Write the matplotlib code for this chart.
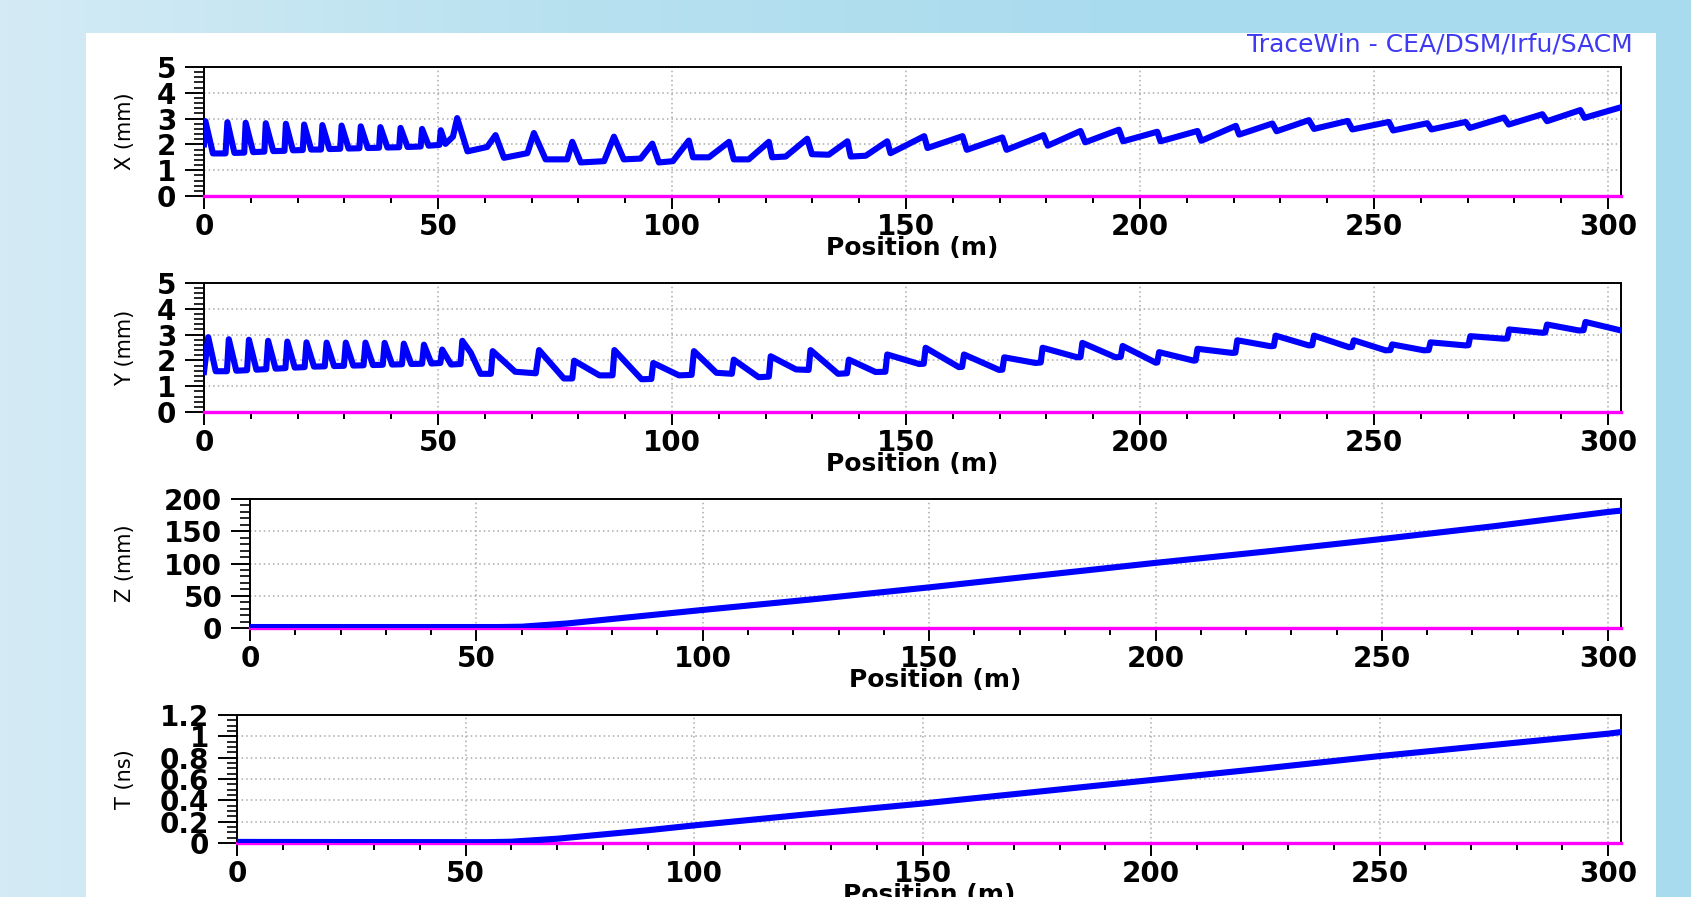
#! /usr/bin/env python3

import matplotlib
matplotlib.use("Agg")
import matplotlib.pyplot as plt
import numpy as np
from matplotlib.ticker import MultipleLocator, FuncFormatter
from matplotlib.patches import Rectangle

# ---- envelope data ----
x_pos = [0.0, 0.3, 1.9, 4.6, 5.0, 6.5, 8.6, 8.9, 10.5, 12.9, 13.2, 14.8, 17.2, 17.5,
         19.0, 21.1, 21.4, 22.9, 25.0, 25.3, 26.8, 29.1, 29.4, 30.9, 33.2, 33.5,
         35.0, 37.4, 37.7, 39.2, 41.7, 42.0, 43.5, 46.3, 46.6, 48.0, 50.3, 50.6,
         51.6, 53.2, 54.1, 56.3, 60.5, 62.3, 64.1, 69.1, 70.5, 73.0, 77.6, 78.7,
         80.5, 85.5, 87.6, 89.7, 93.3, 95.8, 97.2, 100.2, 103.6, 104.5, 107.9,
         112.2, 113.2, 116.4, 120.7, 121.4, 124.3, 128.9, 129.9, 133.5, 137.5,
         138.2, 141.4, 146.0, 146.7, 153.9, 154.6, 162.1, 163.0, 170.6, 171.5,
         179.4, 180.3, 187.3, 188.3, 195.5, 196.4, 203.7, 204.4, 212.3, 213.1,
         220.5, 221.2, 228.3, 229.2, 236.1, 237.2, 244.4, 245.4, 253.2, 254.1,
         261.4, 262.3, 269.6, 270.5, 277.8, 278.8, 286.0, 287.0, 294.1, 295.0,
         302.8]
x_env = [2.0, 2.9, 1.65, 1.65, 2.86, 1.67, 1.68, 2.84, 1.7, 1.72, 2.82, 1.74, 1.75, 2.8,
         1.77, 1.78, 2.77, 1.8, 1.8, 2.75, 1.82, 1.83, 2.73, 1.84, 1.85, 2.7,
         1.86, 1.87, 2.67, 1.88, 1.89, 2.64, 1.9, 1.92, 2.6, 1.95, 1.98, 2.55,
         2.02, 2.3, 3.02, 1.73, 1.9, 2.36, 1.48, 1.66, 2.44, 1.42, 1.42, 2.1,
         1.3, 1.35, 2.3, 1.42, 1.45, 2.03, 1.3, 1.35, 2.15, 1.5, 1.5,
         2.1, 1.42, 1.42, 2.1, 1.5, 1.53, 2.22, 1.62, 1.6, 2.12,
         1.53, 1.56, 2.12, 1.66, 2.32, 1.86, 2.32, 1.79, 2.27, 1.79,
         2.36, 1.95, 2.52, 2.08, 2.57, 2.12, 2.49, 2.12, 2.52, 2.14,
         2.72, 2.38, 2.81, 2.51, 2.94, 2.6, 2.91, 2.58, 2.87, 2.54,
         2.82, 2.58, 2.87, 2.64, 3.04, 2.77, 3.17, 2.9, 3.33, 3.03,
         3.44]

y_pos = [0.0, 0.9, 2.5, 4.9, 5.3, 6.9, 9.2, 9.6, 11.2, 13.3, 13.7, 15.3, 17.4, 17.8,
         19.4, 21.5, 21.9, 23.5, 25.8, 26.2, 27.8, 29.9, 30.3, 31.9, 34.1, 34.5,
         36.1, 38.2, 38.6, 40.2, 42.3, 42.7, 44.3, 46.6, 47.0, 48.6, 50.5, 50.9,
         52.8, 54.8, 55.2, 57.0, 59.1, 61.3, 61.7, 66.5, 70.9, 71.6, 76.9, 78.7,
         79.1, 84.5, 87.3, 87.7, 93.5, 95.6, 96.0, 101.5, 104.2, 104.7, 109.5,
         112.8, 113.2, 118.5, 120.7, 121.1, 126.5, 129.2, 129.6, 135.5, 137.4,
         137.8, 143.5, 145.6, 146.0, 152.8, 153.8, 154.2, 161.3, 162.0, 162.4,
         169.9, 170.6, 171.0, 177.7, 178.8, 179.2, 186.6, 187.3, 187.7, 194.8,
         195.9, 196.3, 203.4, 203.7, 204.1, 211.5, 211.9, 212.3, 219.7, 220.4,
         220.8, 227.9, 228.6, 229.0, 236.1, 236.8, 237.2, 244.7, 245.3, 245.7,
         252.5, 253.5, 253.9, 260.7, 261.7, 262.1, 269.6, 270.2, 270.6, 277.8,
         278.5, 278.9, 286.0, 286.6, 287.0, 293.8, 294.8, 295.2, 302.8]
y_env = [1.55, 2.9, 1.58, 1.58, 2.82, 1.6, 1.62, 2.8, 1.64, 1.66, 2.76, 1.68, 1.7, 2.73,
         1.72, 1.74, 2.7, 1.76, 1.77, 2.69, 1.78, 1.79, 2.69, 1.8, 1.81, 2.69,
         1.82, 1.83, 2.68, 1.84, 1.85, 2.65, 1.86, 1.87, 2.61, 1.88, 1.9, 2.42,
         1.84, 1.86, 2.76, 2.3, 1.48, 1.48, 2.36, 1.56, 1.5, 2.4, 1.3, 1.3,
         1.99, 1.42, 1.42, 2.4, 1.27, 1.28, 1.9, 1.42, 1.44, 2.36, 1.52,
         1.48, 2.03, 1.35, 1.37, 2.16, 1.65, 1.63, 2.4, 1.48, 1.5,
         2.03, 1.55, 1.56, 2.23, 1.86, 1.87, 2.49, 1.74, 1.75, 2.23,
         1.63, 1.64, 2.12, 1.9, 1.92, 2.49, 2.12, 2.13, 2.68, 2.12,
         2.14, 2.56, 1.91, 1.92, 2.32, 1.99, 2.0, 2.45, 2.29, 2.3,
         2.78, 2.55, 2.56, 2.96, 2.58, 2.59, 2.96, 2.51, 2.52, 2.78,
         2.39, 2.4, 2.62, 2.39, 2.4, 2.7, 2.58, 2.59, 2.94, 2.84,
         2.85, 3.2, 3.07, 3.08, 3.39, 3.16, 3.17, 3.49, 3.16]

z_pos = [0, 55, 60, 70, 80, 90, 100, 125, 150, 175, 200, 225, 250, 275, 300, 302.8]
z_val = [1.5, 1.5, 2, 7, 14, 21, 28, 45, 63, 82, 101, 119, 138, 158, 180, 182]

t_pos = [0, 50, 55, 60, 70, 80, 90, 100, 125, 150, 175, 200, 225, 250, 275, 300, 302.8]
t_val = [0.01, 0.008, 0.008, 0.012, 0.04, 0.08, 0.12, 0.165, 0.27, 0.37, 0.48, 0.59,
         0.70, 0.815, 0.92, 1.025, 1.04]

panels = [
    # label, positions, values, ymax, major, minor, (left, top, right, bottom) in px
    ("X (mm)", x_pos, x_env, 5, 1, 0.2, (204, 67, 1621, 196)),
    ("Y (mm)", y_pos, y_env, 5, 1, 0.2, (204, 283, 1621, 412)),
    ("Z (mm)", z_pos, z_val, 200, 50, 10, (250, 499, 1621, 628)),
    ("T (ns)", t_pos, t_val, 1.2, 0.2, 0.05, (237, 715, 1621, 843)),
]

W, H = 1691, 897
XMAX = 302.8

plt.rcParams["font.family"] = ["DejaVu Sans"]

fig = plt.figure(figsize=(W / 100, H / 100), dpi=100)

# slide background: light blue, a bit paler on the left
bg = fig.add_axes([0, 0, 1, 1], zorder=-10)
grad = np.linspace(0, 1, 256).reshape(1, -1)
cmap = matplotlib.colors.LinearSegmentedColormap.from_list("bg", ["#d4ebf5", "#b8e1f0", "#a9dbee", "#a9dbee"])
bg.imshow(grad, aspect="auto", cmap=cmap, extent=[0, 1, 0, 1])
bg.set_axis_off()

# white plot window
fig.patches.append(Rectangle((86 / W, 0), (1656 - 86) / W, 1 - 33 / H,
                             transform=fig.transFigure, facecolor="white",
                             edgecolor="none", zorder=-5))

fmt = FuncFormatter(lambda v, p: "%g" % v)

for label, pos, val, ymax, major, minor, (l, t, r, b) in panels:
    ax = fig.add_axes([l / W, 1 - b / H, (r - l) / W, (b - t) / H])

    ax.plot([0, XMAX], [0, 0], color="#ff00ff", lw=2.4, clip_on=False, zorder=3)
    ax.plot(pos, val, color="#0000ff", lw=4.4, zorder=4)

    ax.set_xlim(0, XMAX)
    ax.set_ylim(0, ymax)

    ax.xaxis.set_major_locator(MultipleLocator(50))
    ax.xaxis.set_minor_locator(MultipleLocator(10))
    ax.yaxis.set_major_locator(MultipleLocator(major))
    ax.yaxis.set_minor_locator(MultipleLocator(minor))
    ax.yaxis.set_major_formatter(fmt)

    ax.tick_params(axis="x", which="major", direction="out", length=9, width=1.4,
                   labelsize=20, pad=3)
    ax.tick_params(axis="x", which="minor", direction="out", length=5, width=1.4)
    ax.tick_params(axis="y", which="major", direction="out", length=14, width=1.4,
                   labelsize=20, pad=6)
    ax.tick_params(axis="y", which="minor", direction="out", length=7, width=1.2)
    for lab in ax.get_xticklabels() + ax.get_yticklabels():
        lab.set_fontweight("bold")

    for s in ax.spines.values():
        s.set_linewidth(1.4)

    ax.grid(True, which="major", color="#aaaaaa", linestyle=(0, (1, 2)), lw=1.1)

    ax.set_xlabel("Position (m)", fontsize=18, fontweight="bold", va="center")
    ax.xaxis.set_label_coords(0.5, -52 / (b - t))
    ax.set_ylabel(label, fontsize=15, va="center")
    ax.yaxis.set_label_coords((125 - l) / (r - l), 0.5)

fig.text(1633 / W, 1 - 45 / H, "TraceWin - CEA/DSM/Irfu/SACM", color="#3f3af2",
         fontsize=18, ha="right", va="center")

plt.savefig("out.png", dpi=100)
